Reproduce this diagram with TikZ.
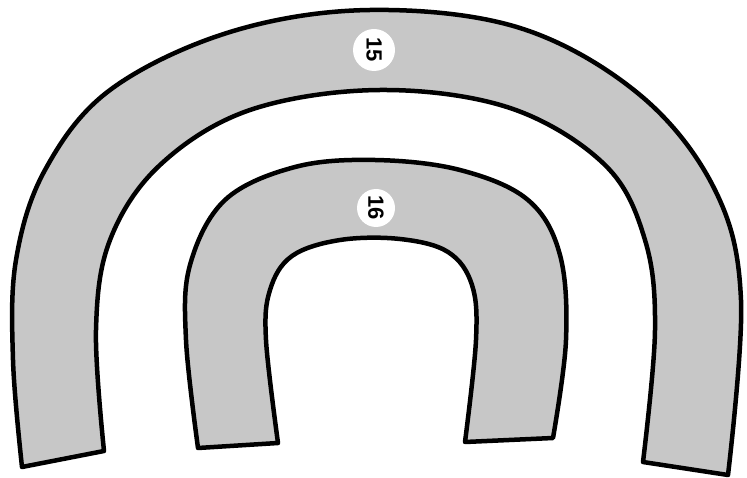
\documentclass[tikz,border=0pt]{standalone}
\usepackage{fontspec}
\setmainfont{Liberation Sans}
\begin{document}
\begin{tikzpicture}[x=1pt,y=-1pt,
  archband/.style={draw=black,line width=4.5pt,fill=black!22,line join=round},
  tag/.style={circle,fill=white,inner sep=1pt,minimum size=42pt,font=\bfseries\fontsize{22}{22}\selectfont,rotate=-90}]
\useasboundingbox (0,0) rectangle (747,478);
% arch 15
\path[archband] plot[smooth,tension=0.6] coordinates {(22,467) (13,360) (16,260) (45,170) (110,90) (230,32) (370,10) (520,28) (640,95) (715,190) (741,300) (728,475)}
  -- plot[smooth,tension=0.6] coordinates {(643,462) (655,330) (645,240) (605,165) (510,108) (380,90) (250,110) (160,165) (110,240) (96,330) (104,451)} -- cycle;
% arch 16
\path[archband] plot[smooth,tension=0.6] coordinates {(198,448) (186,340) (190,265) (225,200) (295,167) (375,160) (460,170) (528,200) (560,255) (566,340) (553,438)}
  -- plot[smooth,tension=0.6] coordinates {(465,442) (476,340) (472,285) (448,252) (400,239) (340,240) (292,256) (270,290) (266,340) (278,443)} -- cycle;
\node[tag] (n15) at (374,50) {15};
\node[tag,minimum size=38pt] (n16) at (376,208) {16};
\end{tikzpicture}
\end{document}
